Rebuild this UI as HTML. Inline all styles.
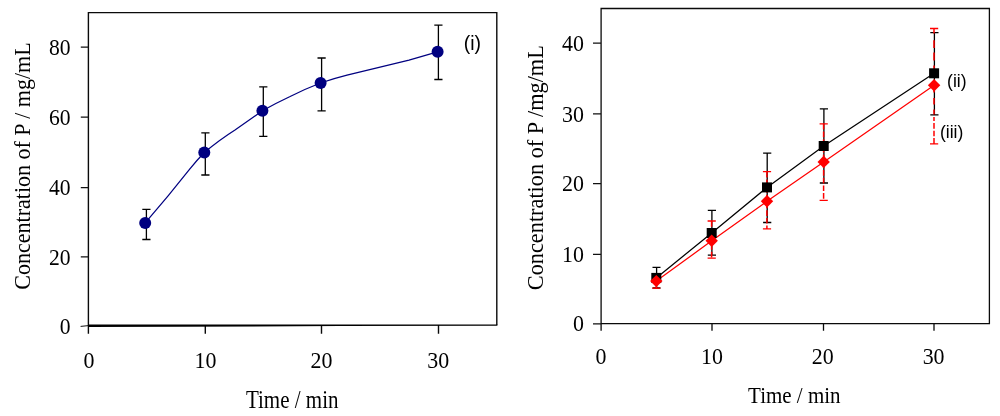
<!DOCTYPE html>
<html><head><meta charset="utf-8"><title>Concentration of P vs Time</title>
<style>
html,body{margin:0;padding:0;background:#fff;}
svg{display:block}
.ser{font-family:"Liberation Serif",serif;fill:#000}
.san{font-family:"Liberation Sans",sans-serif;fill:#000}
</style></head><body>
<svg width="1000" height="416" viewBox="0 0 1000 416">
<rect width="1000" height="416" fill="#fff"/>

<!-- ================= LEFT PLOT ================= -->
<g stroke="#0a0a0a" stroke-width="1.4" fill="none">
  <path d="M88.4 333.7V12.6H496.8V325.1"/>
  <!-- x ticks -->
  <path d="M205.3 325V333.7M321.5 325V333.7M438.5 325V333.7"/>
</g>
<g stroke="#111" stroke-width="1.25" fill="none">
  <!-- y ticks -->
  <path d="M80.8 47.1H88.5M80.8 117.1H88.5M80.8 187.5H88.5M80.8 256.9H88.5"/>
  <path d="M80.6 326.4L88.6 325.6" stroke-width="1"/>
</g>
<polygon points="88,324.4 497.4,324.4 497.4,325.7 340,326 180,326.8 88,327" fill="#000"/>

<g class="ser" font-size="23" text-anchor="end">
  <text transform="translate(70.6 54.8) scale(0.94 1)">80</text>
  <text transform="translate(70.6 124.6) scale(0.94 1)">60</text>
  <text transform="translate(70.6 195.2) scale(0.94 1)">40</text>
  <text transform="translate(70.6 264.5) scale(0.94 1)">20</text>
  <text transform="translate(70.6 334.4) scale(0.94 1)">0</text>
</g>
<g class="ser" font-size="23.6" text-anchor="middle">
  <text transform="translate(88.9 368) scale(0.93 1)">0</text>
  <text transform="translate(205.5 368) scale(0.93 1)">10</text>
  <text transform="translate(321.5 368) scale(0.93 1)">20</text>
  <text transform="translate(438.2 368) scale(0.93 1)">30</text>
</g>
<text class="ser" font-size="24.5" text-anchor="middle" transform="translate(292.2 408.3) scale(0.857 1)">Time / min</text>
<text class="ser" font-size="23" text-anchor="middle" transform="translate(30.4 166) rotate(-90) scale(0.957 1)">Concentration of P / mg/mL</text>

<!-- curve -->
<path d="M145 223.2 L168.1 195.8 L189.5 169.4 Q196.5 160.6 204.3 152.5 Q220 139.5 235 130 L262.4 110.8 Q276 103 289.6 96.7 Q305 89 320.5 83 Q334 78.5 347 75.2 L409 60.2 L437.5 51.8" fill="none" stroke="#000080" stroke-width="1.25"/>
<!-- error bars -->
<g stroke="#000" stroke-width="1.3" fill="none">
  <path d="M146.4 209.3V239.5M142.3 209.3H150.5M142.3 239.5H150.5"/>
  <path d="M205.3 132.8V175M201.3 132.8H209.5M201.3 175H209.5"/>
  <path d="M263.3 86.8V136.3M259.2 86.8H267.4M259.2 136.3H267.4"/>
  <path d="M321.6 58V110.8M317.5 58H325.7M317.5 110.8H325.7"/>
  <path d="M438.4 25.1V79.5M434.3 25.1H442.5M434.3 79.5H442.5"/>
</g>
<g fill="#000080">
  <circle cx="145.2" cy="223" r="6"/>
  <circle cx="204.3" cy="152.4" r="6"/>
  <circle cx="262.4" cy="110.8" r="6"/>
  <circle cx="320.6" cy="82.9" r="6"/>
  <circle cx="437.6" cy="51.7" r="6"/>
</g>
<text class="san" font-size="19.5" x="463.8" y="50">(i)</text>

<!-- ================= RIGHT PLOT ================= -->
<g stroke="#0a0a0a" stroke-width="1.3" fill="none">
  <path d="M601.1 330.8V8.5H989.4V323.6H601.1"/>
  <path d="M712 323.8V330.8M823.5 323.8V330.8M934 323.8V330.8"/>
</g>
<g stroke="#111" stroke-width="1.25" fill="none">
  <path d="M593 43H601M593 113.8H601M593 183.5H601M593 254.3H601M593 323.8H601"/>
</g>
<g class="ser" font-size="22.6" text-anchor="end">
  <text transform="translate(583.9 50.8) scale(0.97 1)">40</text>
  <text transform="translate(583.9 121.5) scale(0.97 1)">30</text>
  <text transform="translate(583.9 191.1) scale(0.97 1)">20</text>
  <text transform="translate(583.9 262.1) scale(0.97 1)">10</text>
  <text transform="translate(583.9 330.7) scale(0.97 1)">0</text>
</g>
<g class="ser" font-size="22.6" text-anchor="middle">
  <text transform="translate(601 364.4) scale(0.97 1)">0</text>
  <text transform="translate(711.9 364.4) scale(0.97 1)">10</text>
  <text transform="translate(822.8 364.4) scale(0.97 1)">20</text>
  <text transform="translate(933.6 364.4) scale(0.97 1)">30</text>
</g>
<text class="ser" font-size="22.5" text-anchor="middle" transform="translate(794.3 403.1) scale(0.933 1)">Time / min</text>
<text class="ser" font-size="22.3" text-anchor="middle" transform="translate(543.2 167.7) rotate(-90)">Concentration of P /mg/mL</text>

<!-- black series -->
<path d="M656.3 277.9L711.7 233L767 187.4L823.7 146L934.1 73.3" fill="none" stroke="#000" stroke-width="1.25"/>
<g stroke="#000" stroke-width="1.3" fill="none">
  <path d="M656.6 267.4V288M652.5 267.4H660.5M652.5 288H660.5"/>
  <path d="M711.9 210.4V255.2M707.8 210.4H716M707.8 255.2H716"/>
  <path d="M767.2 153.2V222.5M763.1 153.2H771.3M763.1 222.5H771.3"/>
  <path d="M823.9 108.8V183M819.8 108.8H828M819.8 183H828"/>
  <path d="M934.4 32.7V114.8M930.3 32.7H938.5M930.3 114.8H938.5"/>
</g>
<!-- red series -->
<path d="M656.3 281.1L711.7 240.8L767 201.3L823.7 161.9L934.1 85.2" fill="none" stroke="#f00" stroke-width="1.25"/>
<g stroke="#f00" stroke-width="1.3" fill="none">
  <g stroke-dasharray="5.7 2" stroke-width="1.5">
  <path d="M656.3 275V288.2"/>
  <path d="M711.6 221V258.1"/>
  <path d="M766.9 171.7V228.9"/>
  <path d="M823.6 123.8V200.3"/>
  <path d="M934 28.5V33.4M934 40.2V48.1M934 52.5V60.4M934 65.5V69M934 90V92.6M934 98V104.4M934 109.5V114.6M934 117.1V121M934 122.9V128.7M934 130.7V136.2M934 138V143.9" stroke-dasharray="none"/>
  </g>
  <path d="M652.3 288.2H660.3"/>
  <path d="M707.6 221H715.8M707.6 258.1H715.8"/>
  <path d="M762.9 171.7H771.1M762.9 228.9H771.1"/>
  <path d="M819.6 123.8H827.8M819.6 200.3H827.8"/>
  <path d="M930 28.5H938.2M930 143.9H938.2"/>
</g>
<g fill="#000">
  <rect x="651.3" y="272.9" width="10" height="10"/>
  <rect x="706.7" y="228" width="10" height="10"/>
  <rect x="762" y="182.4" width="10" height="10"/>
  <rect x="818.7" y="141" width="10" height="10"/>
  <rect x="929.1" y="68.3" width="10" height="10"/>
</g>
<g fill="#f00">
  <path d="M656.3 274.9l6.2 6.2l-6.2 6.2l-6.2-6.2z"/>
  <path d="M711.7 234.6l6.2 6.2l-6.2 6.2l-6.2-6.2z"/>
  <path d="M767 195.1l6.2 6.2l-6.2 6.2l-6.2-6.2z"/>
  <path d="M823.7 155.7l6.2 6.2l-6.2 6.2l-6.2-6.2z"/>
  <path d="M934.1 79l6.2 6.2l-6.2 6.2l-6.2-6.2z"/>
</g>
<text class="san" font-size="17.6" x="947.1" y="87.1">(ii)</text>
<text class="san" font-size="17.6" x="939.9" y="138">(iii)</text>
</svg>
</body></html>
